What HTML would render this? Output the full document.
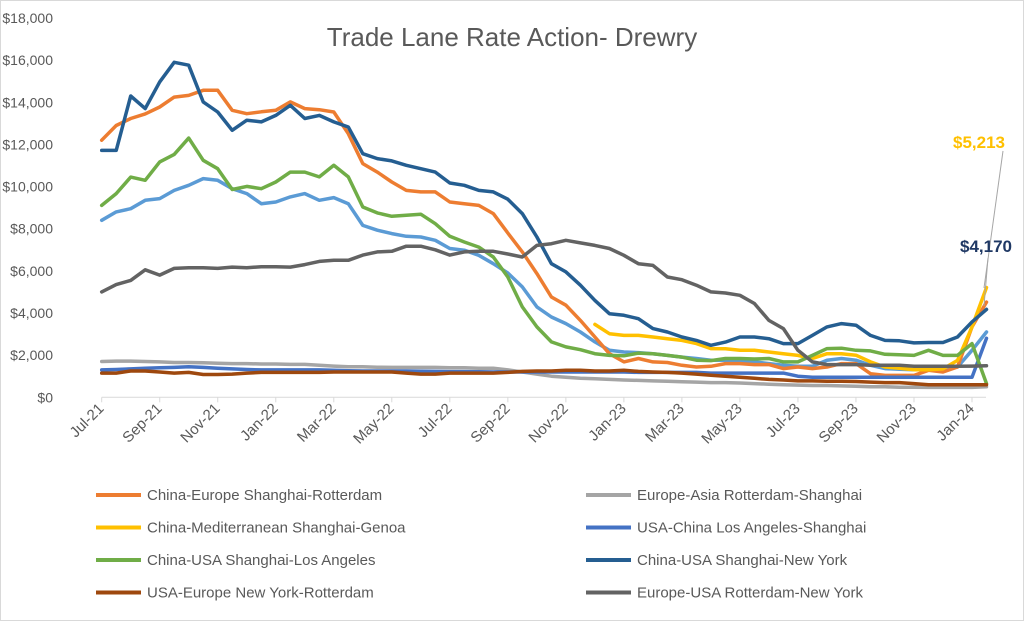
<!DOCTYPE html>
<html><head><meta charset="utf-8"><style>
body{margin:0;background:#fff;}
#c{position:absolute;left:0;top:0;width:1024px;height:621px;}
text{font-family:"Liberation Sans",sans-serif;}
</style></head><body>
<svg id="c" width="1024" height="621">
<rect x="0.5" y="0.5" width="1023" height="620" fill="#fff" stroke="#d9d9d9"/>
<text x="512" y="46" text-anchor="middle" font-size="26" fill="#595959">Trade Lane Rate Action- Drewry</text>
<g id="yaxis"></g>
<g id="xaxis"></g>
<g id="series"></g>
<g id="legend"></g>
<line x1="1003" y1="151" x2="984" y2="288" stroke="#a6a6a6" stroke-width="1"/>
<line x1="988" y1="258" x2="984" y2="306" stroke="#a6a6a6" stroke-width="1"/>
<text x="979" y="148" text-anchor="middle" font-size="17" font-weight="bold" fill="#FFC000">$5,213</text>
<text x="986" y="252" text-anchor="middle" font-size="17" font-weight="bold" fill="#1F3864">$4,170</text>
</svg>
<script>
const yTicks=[0,2000,4000,6000,8000,10000,12000,14000,16000,18000];
const xTickLabels=["Jul-21","Sep-21","Nov-21","Jan-22","Mar-22","May-22","Jul-22","Sep-22","Nov-22","Jan-23","Mar-23","May-23","Jul-23","Sep-23","Nov-23","Jan-24"];
const chinaEurope=[12200,12900,13230,13450,13780,14250,14330,14570,14570,13620,13460,13550,13620,14020,13700,13650,13540,12510,11090,10690,10220,9820,9750,9750,9270,9190,9110,8720,7800,6900,5870,4760,4370,3650,2860,2070,1680,1840,1680,1650,1520,1440,1470,1600,1600,1550,1550,1360,1440,1360,1440,1600,1600,1120,1040,1040,1040,1280,1200,1440,3340,4520];
const europeAsia=[1700,1720,1720,1700,1680,1650,1650,1640,1620,1600,1600,1580,1580,1560,1560,1520,1480,1450,1450,1430,1420,1420,1420,1420,1400,1400,1380,1380,1300,1200,1100,1000,950,900,880,850,820,800,780,760,740,720,700,700,680,650,620,600,580,560,560,540,520,500,500,480,480,470,470,470,470,500];
const chinaMed=[null,null,null,null,null,null,null,null,null,null,null,null,null,null,null,null,null,null,null,null,null,null,null,null,null,null,null,null,null,null,null,null,null,null,3460,3020,2940,2940,2860,2780,2700,2550,2310,2300,2230,2230,2150,2070,1990,1840,2070,2070,2000,1680,1440,1380,1310,1310,1350,1750,3340,5213];
const usaChina=[1300,1320,1350,1380,1400,1420,1450,1420,1380,1350,1320,1300,1300,1300,1300,1300,1280,1260,1250,1250,1250,1250,1240,1230,1220,1220,1210,1200,1200,1200,1200,1200,1200,1200,1200,1200,1200,1180,1180,1180,1180,1180,1150,1150,1150,1150,1150,1150,1000,950,950,950,950,950,950,950,950,950,950,950,950,2800];
const chinaLA=[9110,9670,10450,10300,11170,11530,12300,11250,10850,9860,10010,9900,10220,10690,10690,10460,11010,10460,9030,8750,8590,8640,8690,8240,7640,7370,7130,6660,5710,4290,3340,2630,2390,2260,2070,1990,1970,2100,2070,1990,1910,1760,1740,1840,1840,1820,1840,1680,1680,1990,2310,2330,2230,2200,2040,2020,1990,2230,1990,1990,2550,650];
const chinaNY=[11720,11720,14300,13700,14970,15900,15760,14020,13540,12670,13150,13070,13380,13860,13230,13380,13070,12830,11560,11330,11220,11010,10850,10690,10170,10060,9820,9750,9400,8720,7610,6340,5950,5320,4600,3970,3890,3730,3260,3100,2860,2700,2470,2620,2860,2860,2780,2550,2550,2940,3340,3500,3420,2940,2700,2680,2580,2600,2600,2860,3580,4170];
const usaEurope=[1150,1150,1250,1250,1200,1150,1180,1080,1080,1100,1150,1180,1180,1180,1180,1180,1200,1200,1200,1200,1200,1150,1100,1100,1150,1150,1150,1150,1180,1230,1250,1250,1280,1280,1250,1250,1280,1230,1200,1180,1150,1100,1050,1000,950,900,850,820,780,780,760,760,750,720,700,700,650,600,600,600,600,600];
const europeUSA=[5000,5350,5550,6050,5800,6120,6150,6150,6120,6180,6150,6200,6200,6180,6300,6450,6500,6500,6750,6900,6930,7170,7170,7000,6750,6900,6930,6930,6800,6660,7210,7290,7450,7330,7210,7060,6740,6340,6260,5710,5580,5320,5000,4950,4840,4450,3650,3260,2230,1680,1550,1550,1550,1520,1520,1520,1470,1470,1470,1470,1480,1500];
const composite=[8400,8800,8950,9350,9430,9820,10060,10380,10300,9900,9670,9190,9270,9510,9670,9350,9480,9190,8160,7930,7770,7640,7610,7450,7060,6980,6740,6340,5900,5240,4290,3810,3500,3100,2630,2230,2150,2120,2070,1990,1910,1840,1760,1760,1730,1680,1600,1520,1470,1470,1760,1840,1760,1520,1360,1330,1310,1310,1310,1440,2230,3100];

const NS="http://www.w3.org/2000/svg";
const X0=101.7, PXM=29.01, Y0=397.3, PPV=21.07/1000;
function xs(i){return X0+PXM*i*0.5;}
function ys(v){return Y0-v*PPV;}
function mk(tag,attrs,parent){const e=document.createElementNS(NS,tag);for(const k in attrs)e.setAttribute(k,attrs[k]);parent.appendChild(e);return e;}

const ya=document.getElementById('yaxis');
yTicks.forEach(v=>{
  const t=mk('text',{x:53,y:ys(v)+5,'text-anchor':'end','font-size':14,fill:'#595959'},ya);
  t.textContent='$'+v.toLocaleString('en-US');
  
  
});
const xa=document.getElementById('xaxis');
const ax=mk('line',{x1:X0,y1:Y0,x2:986,y2:Y0,stroke:'#d9d9d9','stroke-width':1},xa);


xTickLabels.forEach((lab,k)=>{
  const x=X0+PXM*2*k;
  const tk=mk('line',{x1:x,y1:Y0,x2:x,y2:Y0+5,stroke:'#d9d9d9','stroke-width':1},xa);
  
  
  const t=mk('text',{x:x+3,y:Y0+12,'text-anchor':'end','font-size':15,fill:'#595959',transform:`rotate(-45 ${x+3} ${Y0+12})`},xa);
  t.textContent=lab;
  
  
});

const series=[
 {name:'composite-index',data:composite,color:'#5B9BD5'},
 {name:'china-europe',data:chinaEurope,color:'#ED7D31'},
 {name:'europe-asia',data:europeAsia,color:'#A5A5A5'},
 {name:'china-mediterranean',data:chinaMed,color:'#FFC000'},
 {name:'usa-china',data:usaChina,color:'#4472C4'},
 {name:'china-usa-la',data:chinaLA,color:'#70AD47'},
 {name:'china-usa-ny',data:chinaNY,color:'#255E91'},
 {name:'usa-europe',data:usaEurope,color:'#9E480E'},
 {name:'europe-usa',data:europeUSA,color:'#636363'}
];
const sg=document.getElementById('series');
series.forEach(s=>{
  let d='',pen=false;
  s.data.forEach((v,i)=>{
    if(v===null){pen=false;return;}
    d+=(pen?'L':'M')+xs(i).toFixed(1)+' '+ys(v).toFixed(1)+' ';pen=true;
  });
  const p=mk('path',{d:d,fill:'none',stroke:s.color,'stroke-width':3.5,'stroke-linejoin':'round','stroke-linecap':'round'},sg);
  
  
});

const legendItems=[
 ['China-Europe Shanghai-Rotterdam','#ED7D31',0,0],
 ['Europe-Asia Rotterdam-Shanghai','#A5A5A5',1,0],
 ['China-Mediterranean Shanghai-Genoa','#FFC000',0,1],
 ['USA-China Los Angeles-Shanghai','#4472C4',1,1],
 ['China-USA Shanghai-Los Angeles','#70AD47',0,2],
 ['China-USA Shanghai-New York','#255E91',1,2],
 ['USA-Europe New York-Rotterdam','#9E480E',0,3],
 ['Europe-USA Rotterdam-New York','#636363',1,3]
];
const lg=document.getElementById('legend');
legendItems.forEach(([lab,col,c,r])=>{
  const x=c?586:96, y=495+r*32.5;
  const g=mk('g',{},lg);
  
  
  mk('line',{x1:x,y1:y,x2:x+45,y2:y,stroke:col,'stroke-width':4},g);
  const t=mk('text',{x:x+51,y:y+5,'font-size':15,fill:'#595959'},g);
  t.textContent=lab;
});
</script>
</body></html>
